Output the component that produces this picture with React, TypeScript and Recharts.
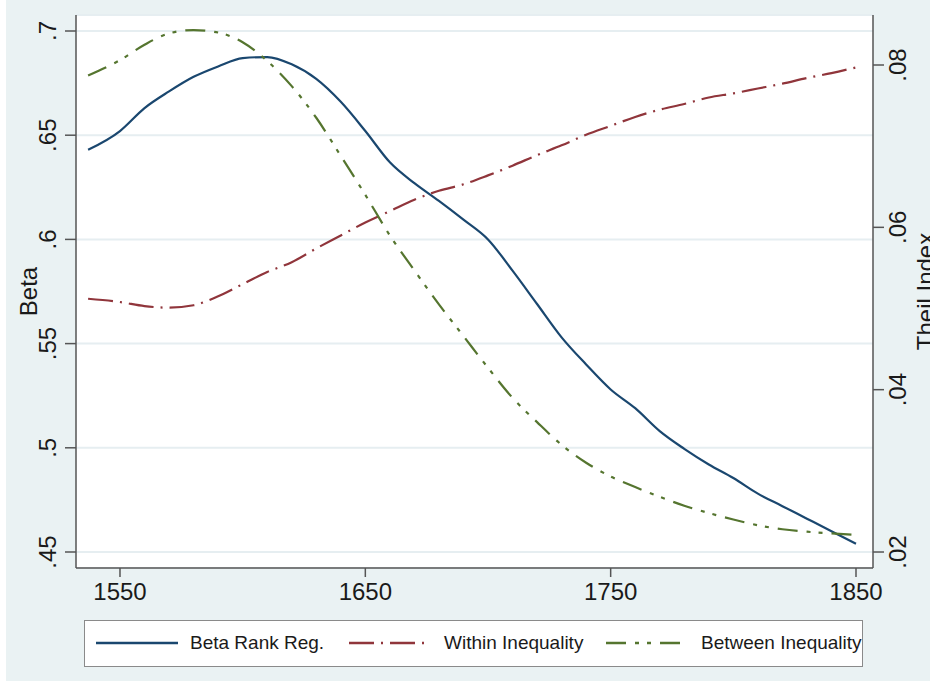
import React from "react";
import {
  LineChart,
  Line,
  XAxis,
  YAxis,
  CartesianGrid,
  Legend,
} from "recharts";

// years on the x axis
const years = [
  1537, 1550, 1560, 1570, 1580, 1590, 1600, 1610, 1620, 1630, 1640, 1650, 1660,
  1670, 1680, 1690, 1700, 1710, 1720, 1730, 1740, 1750, 1760, 1770, 1780, 1790,
  1800, 1810, 1820, 1830, 1840, 1850,
];

// left axis: Beta rank regression
const betaRank = [
  0.643, 0.652, 0.663, 0.671, 0.678, 0.683, 0.687, 0.6875, 0.684, 0.677, 0.666,
  0.652, 0.637, 0.627, 0.6185, 0.6095, 0.6, 0.585, 0.569, 0.553, 0.54, 0.528,
  0.519, 0.508, 0.4995, 0.492, 0.4855, 0.478, 0.472, 0.466, 0.46, 0.454,
];

// right axis: Theil index components
const withinIneq = [
  0.0512, 0.0508, 0.0503, 0.0501, 0.0504, 0.0515, 0.053, 0.0545, 0.0557,
  0.0574, 0.059, 0.0606, 0.062, 0.0634, 0.0645, 0.0653, 0.0664, 0.0676, 0.0689,
  0.0701, 0.0714, 0.0725, 0.0736, 0.0745, 0.0752, 0.076, 0.0765, 0.0771,
  0.0777, 0.0784, 0.079, 0.0797,
];

const betweenIneq = [
  0.0787, 0.0806, 0.0825, 0.0839, 0.0843, 0.084, 0.0828, 0.0805, 0.0774,
  0.0735, 0.0688, 0.064, 0.059, 0.0547, 0.0505, 0.0466, 0.0427, 0.039, 0.036,
  0.0332, 0.031, 0.0293, 0.028, 0.0268, 0.0257, 0.0248, 0.024, 0.0233, 0.0228,
  0.0225, 0.0223, 0.0221,
];

const xTicks = [1550, 1650, 1750, 1850];
const betaTicks = [0.45, 0.5, 0.55, 0.6, 0.65, 0.7];
const theilTicks = [0.02, 0.04, 0.06, 0.08];

const data = years.map((year, i) => ({
  year,
  beta: betaRank[i],
  within: withinIneq[i],
  between: betweenIneq[i],
}));

const BLUE = "#1a476f";
const RED = "#90353b";
const GREEN = "#55752f";
const BG = "#eaf2f3";
const FONT = "'Liberation Sans', Arial, Helvetica, sans-serif";

const fmt = (v: number) => String(v).replace(/^0/, "");

const RotTick = ({ x, y, payload }: any) => (
  <text
    x={x}
    y={y}
    transform={`rotate(-90 ${x} ${y})`}
    textAnchor="middle"
    fill="#1a1a1a"
    fontSize={24}
    fontFamily={FONT}
  >
    {fmt(payload.value)}
  </text>
);

const AxisTitle = ({ viewBox, value, dx }: any) => {
  const x = viewBox.x + dx;
  const y = viewBox.y + viewBox.height / 2;
  return (
    <text
      x={x}
      y={y}
      transform={`rotate(-90 ${x} ${y})`}
      textAnchor="middle"
      fill="#1a1a1a"
      fontSize={24}
      fontFamily={FONT}
    >
      {value}
    </text>
  );
};

const legendItems = [
  { name: "Beta Rank Reg.", color: BLUE, dash: undefined, lx: 11, tx: 105 },
  { name: "Within Inequality", color: RED, dash: "25 7 2 7", lx: 264, tx: 359 },
  { name: "Between Inequality", color: GREEN, dash: "20 9 4 8 4 9", lx: 521, tx: 616 },
];

const LegendBox = () => (
  <div
    style={{
      position: "relative",
      width: 779,
      height: 47,
      boxSizing: "border-box",
      background: "#fff",
      border: "1.5px solid #8a8a8a",
      fontFamily: FONT,
      fontSize: 19,
      color: "#1a1a1a",
    }}
  >
    {legendItems.map((it) => (
      <React.Fragment key={it.name}>
        <svg
          width={82}
          height={6}
          style={{ position: "absolute", left: it.lx, top: 19 }}
        >
          <line
            x1={0}
            y1={3}
            x2={82}
            y2={3}
            stroke={it.color}
            strokeWidth={2.5}
            strokeDasharray={it.dash}
          />
        </svg>
        <span
          style={{
            position: "absolute",
            left: it.tx,
            top: 11,
            whiteSpace: "nowrap",
            lineHeight: "22px",
          }}
        >
          {it.name}
        </span>
      </React.Fragment>
    ))}
  </div>
);

export default function App() {
  return (
    <div
      style={{
        position: "absolute",
        left: 0,
        top: 0,
        width: 930,
        height: 681,
        background: "#fff",
        overflow: "hidden",
      }}
    >
      <div style={{ marginLeft: 6, width: 924, height: 681, background: BG }}>
        <LineChart
          width={924}
          height={681}
          data={data}
          margin={{ top: 15, right: 0, left: 0, bottom: 14 }}
        >
          <CartesianGrid
            yAxisId="left"
            vertical={false}
            stroke="#e6eef1"
            strokeWidth={2}
            fill="#fff"
          />
          <XAxis
            dataKey="year"
            type="number"
            domain={[1532.07, 1856.93]}
            ticks={xTicks}
            allowDataOverflow
            height={52}
            tickSize={9}
            tickMargin={6}
            stroke="#555"
            strokeWidth={1.5}
            tick={{ fill: "#1a1a1a", fontSize: 24, fontFamily: FONT }}
          />
          <YAxis
            yAxisId="left"
            orientation="left"
            width={70}
            domain={[0.44232, 0.70768]}
            ticks={betaTicks}
            allowDataOverflow
            tickSize={11}
            tickMargin={9}
            stroke="#555"
            strokeWidth={1.5}
            tick={<RotTick />}
            label={<AxisTitle value="Beta" dx={31} />}
          />
          <YAxis
            yAxisId="right"
            orientation="right"
            width={57}
            domain={[0.01803, 0.08616]}
            ticks={theilTicks}
            allowDataOverflow
            tickSize={11}
            tickMargin={22}
            stroke="#555"
            strokeWidth={1.5}
            tick={<RotTick />}
            label={<AxisTitle value="Theil Index" dx={61} />}
          />
          <Legend
            verticalAlign="bottom"
            content={<LegendBox />}
            wrapperStyle={{ left: 78, bottom: 14, width: 779 }}
          />
          <Line
            yAxisId="left"
            type="monotone"
            dataKey="beta"
            name="Beta Rank Reg."
            stroke={BLUE}
            strokeWidth={2.2}
            dot={false}
            isAnimationActive={false}
          />
          <Line
            yAxisId="right"
            type="monotone"
            dataKey="within"
            name="Within Inequality"
            stroke={RED}
            strokeWidth={2.2}
            strokeDasharray="25 7 2 7"
            dot={false}
            isAnimationActive={false}
          />
          <Line
            yAxisId="right"
            type="monotone"
            dataKey="between"
            name="Between Inequality"
            stroke={GREEN}
            strokeWidth={2.2}
            strokeDasharray="20 9 4 8 4 9"
            dot={false}
            isAnimationActive={false}
          />
        </LineChart>
      </div>
    </div>
  );
}
